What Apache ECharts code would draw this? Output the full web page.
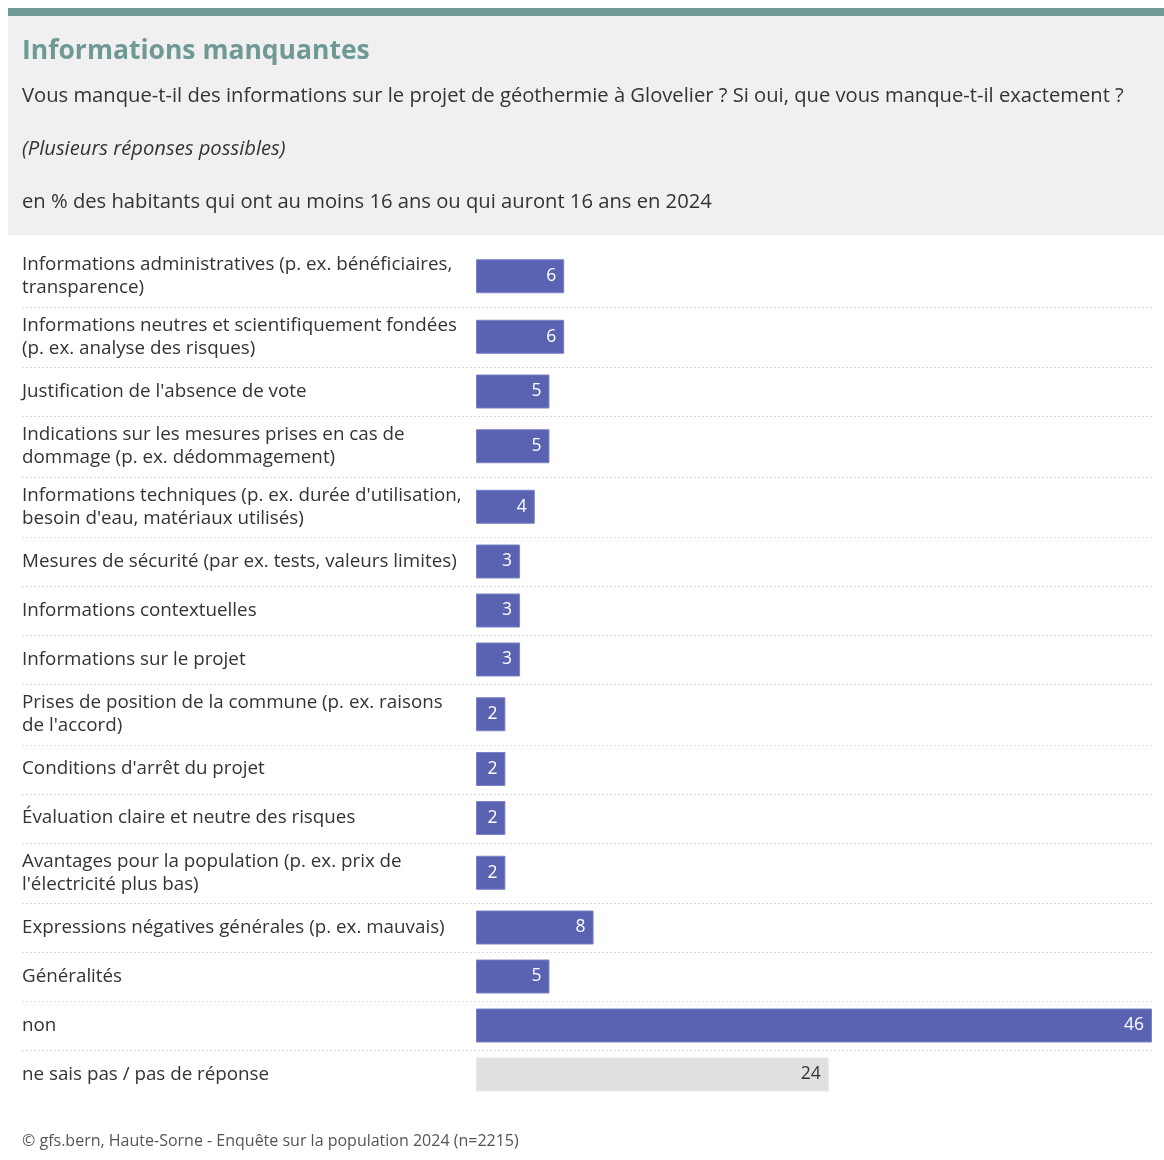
<!DOCTYPE html>
<html><head><meta charset="utf-8">
<script src="https://cdn.jsdelivr.net/npm/echarts@6/dist/echarts.min.js"></script>
<style>html,body{margin:0;padding:0;background:#fff}#c{width:1164px;height:1160px}</style>
</head><body><div id="c"></div>
<script>
const categories = [
  "Informations administratives (p. ex. bénéficiaires,\ntransparence)",
  "Informations neutres et scientifiquement fondées\n(p. ex. analyse des risques)",
  "Justification de l'absence de vote",
  "Indications sur les mesures prises en cas de\ndommage (p. ex. dédommagement)",
  "Informations techniques (p. ex. durée d'utilisation,\nbesoin d'eau, matériaux utilisés)",
  "Mesures de sécurité (par ex. tests, valeurs limites)",
  "Informations contextuelles",
  "Informations sur le projet",
  "Prises de position de la commune (p. ex. raisons\nde l'accord)",
  "Conditions d'arrêt du projet",
  "Évaluation claire et neutre des risques",
  "Avantages pour la population (p. ex. prix de\nl'électricité plus bas)",
  "Expressions négatives générales (p. ex. mauvais)",
  "Généralités",
  "non",
  "ne sais pas / pas de réponse"
];
const values = [6, 6, 5, 5, 4, 3, 3, 3, 2, 2, 2, 2, 8, 5, 46, 24];
const isNeutral = [false,false,false,false,false,false,false,false,false,false,false,false,false,false,false,true];
const titleText = "Informations manquantes";
const subtitleText = "Vous manque-t-il des informations sur le projet de géothermie à Glovelier ? Si oui, que vous manque-t-il exactement ?";
const noteText = "(Plusieurs réponses possibles)";
const unitText = "en % des habitants qui ont au moins 16 ans ou qui auront 16 ans en 2024";
const sourceText = "© gfs.bern, Haute-Sorne - Enquête sur la population 2024 (n=2215)";
const xMax = 46;

(function(){
const FONT = "Open Sans";
const chart = echarts.init(document.getElementById('c'), null, {renderer:'canvas'});
const grids = [], xAxes = [], yAxes = [], series = [], graphics = [];

graphics.push({type:'rect', shape:{x:8,y:8,width:1156,height:8}, style:{fill:'#6f9995'}, silent:true});
graphics.push({type:'rect', shape:{x:8,y:16,width:1156,height:219}, style:{fill:'#f0f0f0'}, silent:true});

let rowTop = 246;
categories.forEach((cat, i) => {
  const lines = cat.split('\n').length;
  const h = lines > 1 ? 60.5 : 49;
  grids.push({left:476, right:12, top:rowTop, height:h});
  xAxes.push({type:'value', gridIndex:i, min:0, max:xMax, show:false});
  yAxes.push({type:'category', gridIndex:i, data:[cat], axisLine:{show:false}, axisTick:{show:false},
    axisLabel:{align:'left', margin:454, color:'#333', fontSize:18.8, fontFamily:FONT, lineHeight:23, padding:[3,0,0,0]}});
  series.push({type:'bar', xAxisIndex:i, yAxisIndex:i, data:[values[i]], barWidth:34,
    itemStyle:{color: isNeutral[i] ? '#e0e0e0' : '#5a62b2', borderColor: isNeutral[i] ? '#e8e8e8' : '#7b82c4', borderWidth:1},
    label:{show:true, position:'insideRight', distance:8, color: isNeutral[i] ? '#333' : '#fff', fontSize:17.5, fontFamily:FONT},
    silent:true, animation:false});
  rowTop += h;
  if (i < categories.length - 1) {
    graphics.push({type:'line', shape:{x1:22,y1:Math.round(rowTop)+0.5,x2:1152,y2:Math.round(rowTop)+0.5},
      style:{stroke:'#dcdcdc', lineWidth:1, lineDash:[2,2]}, silent:true});
  }
});

chart.setOption({
  animation:false,
  title:[
    {text:titleText, left:17, top:33, textStyle:{color:'#6f9995', fontSize:26.5, fontWeight:'bold', fontFamily:FONT}},
    {text:subtitleText, left:17, top:81, textStyle:{color:'#333', fontSize:20.2, fontWeight:'normal', fontFamily:FONT}},
    {text:noteText, left:17, top:134, textStyle:{color:'#333', fontSize:20.2, fontWeight:'normal', fontStyle:'italic', fontFamily:FONT}},
    {text:unitText, left:17, top:187, textStyle:{color:'#333', fontSize:20.2, fontWeight:'normal', fontFamily:FONT}},
    {text:sourceText, left:17, top:1128, textStyle:{color:'#555', fontSize:16, fontWeight:'normal', fontFamily:FONT}}
  ],
  graphic: graphics,
  grid: grids, xAxis: xAxes, yAxis: yAxes, series: series
});
})();
</script></body></html>
